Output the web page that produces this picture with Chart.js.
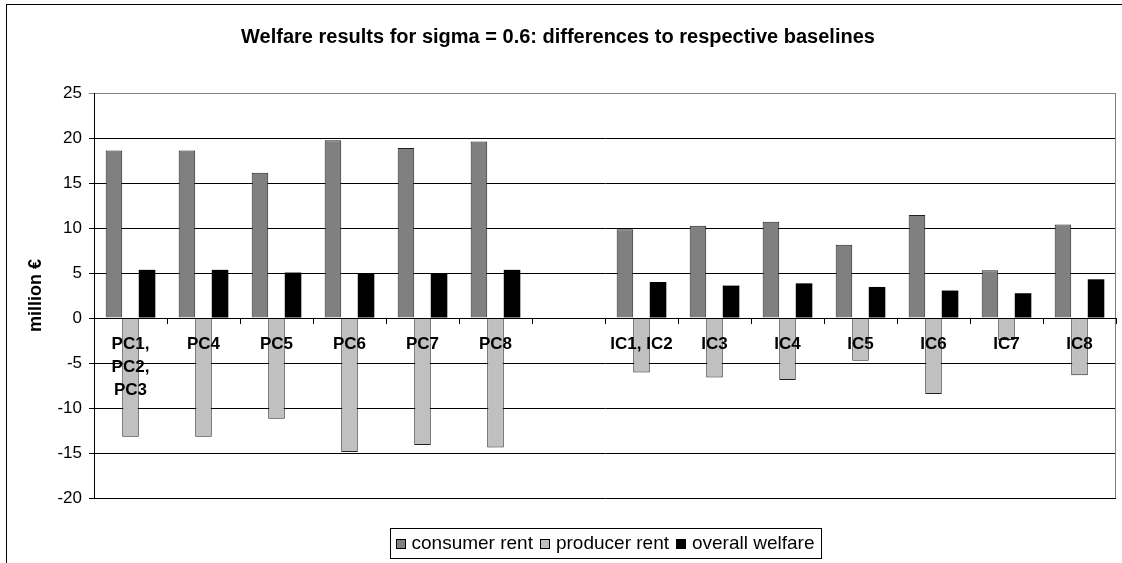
<!DOCTYPE html>
<html lang="en">
<head>
<meta charset="UTF-8">
<title>Welfare results for sigma = 0.6</title>
<script src="https://cdn.jsdelivr.net/npm/chart.js"></script>
<style>
  html, body { margin: 0; padding: 0; background: #fff; }
  #wrap { width: 1122px; height: 563px; }
</style>
</head>
<body>
<div id="wrap"><canvas id="welfareChart" width="1122" height="563"></canvas></div>
<script>
// scenarios (the empty slot separates the PC and IC groups)
const categories = [['PC1,', 'PC2,', 'PC3'], 'PC4', 'PC5', 'PC6', 'PC7', 'PC8', '',
                    'IC1, IC2', 'IC3', 'IC4', 'IC5', 'IC6', 'IC7', 'IC8'];
// million euro, difference to baseline
const consumerRent   = [18.6, 18.6, 16.15, 19.75, 18.9, 19.6, null, 9.85, 10.25, 10.7, 8.15, 11.45, 5.3, 10.4];
const producerRent   = [-13.2, -13.2, -11.2, -14.9, -14.1, -14.4, null, -6.05, -6.6, -6.9, -4.75, -8.45, -2.45, -6.35];
const overallWelfare = [5.35, 5.35, 5.05, 4.9, 4.9, 5.35, null, 4.0, 3.6, 3.85, 3.45, 3.05, 2.75, 4.3];
const yMin = -20, yMax = 25, yStep = 5;

const FONT = '"Liberation Sans", Arial, sans-serif';
Chart.defaults.font.family = FONT;
Chart.defaults.color = '#000';

// white background, outer frame and the grey right edge of the plot
const framePlugin = {
  id: 'frame',
  beforeDraw(chart) {
    const ctx = chart.ctx;
    ctx.save();
    ctx.fillStyle = '#fff';
    ctx.fillRect(0, 0, chart.width, chart.height);
    ctx.strokeStyle = '#000';
    ctx.lineWidth = 1;
    ctx.strokeRect(6.5, 4.5, chart.width + 50, chart.height + 50);
    ctx.restore();
  },
  beforeDatasetsDraw(chart) {
    const {ctx, chartArea} = chart;
    ctx.save();
    ctx.strokeStyle = '#808080';
    ctx.lineWidth = 1;
    ctx.beginPath();
    ctx.moveTo(Math.round(chartArea.right) - 0.5, chartArea.top);
    ctx.lineTo(Math.round(chartArea.right) - 0.5, chartArea.bottom);
    ctx.stroke();
    ctx.restore();
  }
};

// boxed legend below the plot, centred on the plot area
const boxedLegend = {
  id: 'boxedLegend',
  afterDraw(chart) {
    const {ctx, chartArea} = chart;
    const sets = chart.data.datasets;
    const sq = 9, gapText = 7, gapItem = 7, pad = 6;
    ctx.save();
    ctx.font = '19px ' + FONT;
    const widths = sets.map(d => ctx.measureText(d.label).width);
    let total = pad * 2;
    widths.forEach((w, i) => { total += sq + gapText + w + (i < widths.length - 1 ? gapItem : 0); });
    const boxTop = 528, boxH = 30;
    let x = (chartArea.left + chartArea.right) / 2 - total / 2;
    ctx.strokeStyle = '#000';
    ctx.lineWidth = 1;
    ctx.strokeRect(Math.round(x) + 0.5, boxTop + 0.5, Math.round(total), boxH);
    const midY = boxTop + boxH / 2 + 0.5;
    x += pad;
    ctx.textBaseline = 'middle';
    ctx.textAlign = 'left';
    sets.forEach((d, i) => {
      const sx = Math.round(x) + 0.5, sy = Math.round(midY - sq / 2) + 0.5;
      ctx.fillStyle = d.backgroundColor;
      ctx.fillRect(sx, sy, sq, sq);
      ctx.strokeStyle = '#000';
      ctx.strokeRect(sx, sy, sq, sq);
      x += sq + gapText;
      ctx.fillStyle = '#000';
      ctx.fillText(d.label, x, midY);
      x += widths[i] + gapItem;
    });
    ctx.restore();
  }
};

new Chart(document.getElementById('welfareChart'), {
  type: 'bar',
  data: {
    labels: categories,
    datasets: [
      { label: 'consumer rent', data: consumerRent, backgroundColor: '#808080', borderColor: '#222', borderWidth: 1 },
      { label: 'producer rent', data: producerRent, backgroundColor: '#c0c0c0', borderColor: '#222', borderWidth: 1 },
      { label: 'overall welfare', data: overallWelfare, backgroundColor: '#000', borderColor: '#000', borderWidth: 0 }
    ]
  },
  options: {
    responsive: false,
    animation: false,
    categoryPercentage: 0.68,
    barPercentage: 1.0,
    layout: { padding: { left: 0, right: 6, top: 0, bottom: 65 } },
    plugins: {
      legend: { display: false },
      tooltip: { enabled: false },
      title: {
        display: true,
        text: 'Welfare results for sigma = 0.6: differences to respective baselines',
        font: { size: 20, weight: 'bold' },
        color: '#000',
        padding: { top: 25, bottom: 44 }
      }
    },
    scales: {
      x: {
        position: { y: 0 },
        offset: true,
        grid: { display: true, drawOnChartArea: false, drawTicks: true, tickLength: 5, color: '#000', offset: true },
        border: { display: true, color: '#000', width: 1, z: 1 },
        ticks: {
          z: 1,
          autoSkip: false,
          maxRotation: 0,
          minRotation: 0,
          padding: 10,
          color: '#000',
          font: { size: 17, weight: 'bold', lineHeight: 1.35 }
        }
      },
      y: {
        min: yMin,
        max: yMax,
        afterFit(scale) { scale.width = 94; },
        grid: {
          color: c => (c.tick && c.tick.value === yMax ? '#808080' : '#000'),
          tickLength: 5,
          drawTicks: true
        },
        border: { display: true, color: '#000', width: 1 },
        ticks: { stepSize: yStep, padding: 7, color: '#000', font: { size: 17 } },
        title: {
          display: true,
          text: 'million €',
          color: '#000',
          font: { size: 18, weight: 'bold' },
          padding: { top: 25, bottom: 0 }
        }
      }
    }
  },
  plugins: [framePlugin, boxedLegend]
});
</script>
</body>
</html>
